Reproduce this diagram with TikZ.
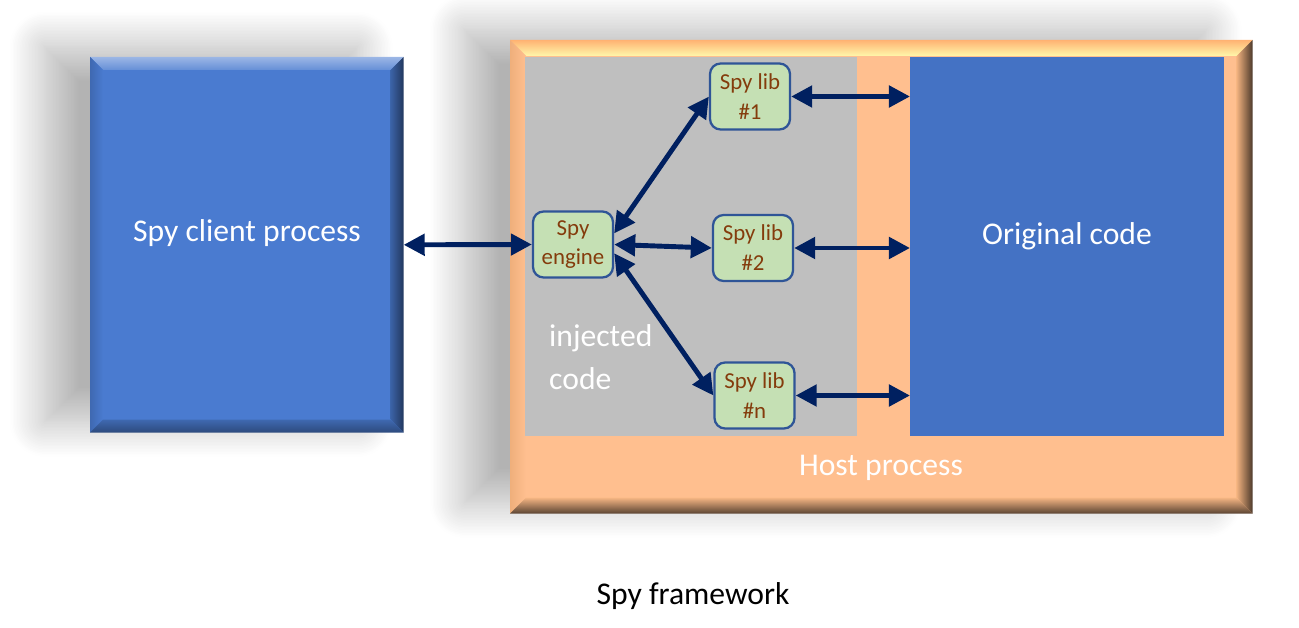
\documentclass[tikz,border=0pt]{standalone}
\usepackage{fontspec}
\setmainfont{Carlito}
\usetikzlibrary{calc,positioning,arrows.meta,shadows.blur}

\definecolor{clientblue}{HTML}{4A7BD0}
\definecolor{codeblue}{HTML}{4472C4}
\definecolor{hostpeach}{HTML}{FFBF8F}
\definecolor{injgrey}{HTML}{BFBFBF}
\definecolor{libgreen}{HTML}{C5E0B4}
\definecolor{libborder}{HTML}{2F5597}
\definecolor{libtext}{HTML}{843C0C}
\definecolor{linkblue}{HTML}{002060}

\begin{document}
\begin{tikzpicture}[x=0.02cm,y=-0.02cm]
    % Styles
    \tikzset{
        bigtext/.style={text=white, font=\fontsize{18}{24}\selectfont},
        softshadow/.style={blur shadow={shadow xshift=-26pt, shadow yshift=6pt, shadow blur radius=20pt,
            shadow blur steps=24, shadow opacity=30}},
        spybox/.style={draw=libborder, line width=1.3pt, fill=libgreen, rounded corners=6pt, text=libtext,
            font=\fontsize{13}{17}\selectfont, align=center, inner sep=0pt, minimum width=1.6cm, minimum height=1.32cm},
        link/.style={draw=linkblue, line width=2.8pt, {Triangle[length=12pt,width=12pt]}-{Triangle[length=12pt,width=12pt]}}
    }

    \useasboundingbox (0,0) rectangle (1299,628);

    % Spy client process
    \node[softshadow, fill=clientblue, anchor=north west, minimum width=6.26cm, minimum height=7.5cm, inner sep=0pt] (client) at (90,57) {};
    \shade[top color=clientblue!55!white, bottom color=clientblue!85!white] (client.north west) -- (client.north east) -- ($(client.north east)+(-13,13)$) -- ($(client.north west)+(13,13)$) -- cycle;
    \shade[left color=clientblue!85!black, right color=clientblue] (client.north west) -- ($(client.north west)+(13,13)$) -- ($(client.south west)+(13,-13)$) -- (client.south west) -- cycle;
    \shade[left color=clientblue!80!black, right color=clientblue!45!black] (client.north east) -- (client.south east) -- ($(client.south east)+(-13,-13)$) -- ($(client.north east)+(-13,13)$) -- cycle;
    \shade[top color=clientblue!85!black, bottom color=clientblue!60!black] (client.south west) -- ($(client.south west)+(13,-13)$) -- ($(client.south east)+(-13,-13)$) -- (client.south east) -- cycle;
    \node[bigtext] (clientlabel) at (247,233) {Spy client process};

    % Host process
    \node[softshadow, fill=hostpeach, anchor=north west, minimum width=14.84cm, minimum height=9.46cm, inner sep=0pt] (host) at (510,40) {};
    \shade[top color=hostpeach!80!orange, bottom color=hostpeach!30!yellow!40!white] (host.north west) -- (host.north east) -- ($(host.north east)+(-16,16)$) -- ($(host.north west)+(16,16)$) -- cycle;
    \shade[left color=hostpeach!75!brown, right color=hostpeach] (host.north west) -- ($(host.north west)+(16,16)$) -- ($(host.south west)+(16,-16)$) -- (host.south west) -- cycle;
    \shade[left color=hostpeach!80!brown, right color=hostpeach!30!black] (host.north east) -- (host.south east) -- ($(host.south east)+(-16,-16)$) -- ($(host.north east)+(-16,16)$) -- cycle;
    \shade[top color=hostpeach!85!brown, bottom color=hostpeach!35!black] (host.south west) -- ($(host.south west)+(16,-16)$) -- ($(host.south east)+(-16,-16)$) -- (host.south east) -- cycle;
    \node[bigtext] (hostlabel) at (881,468) {Host process};

    % Injected code and original code
    \node[fill=injgrey, anchor=north west, minimum width=6.64cm, minimum height=7.58cm, inner sep=0pt] (injected) at (525,57) {};
    \node[bigtext, anchor=west, align=left, font=\fontsize{18}{24.5}\selectfont] (injlabel) at (543,357) {injected\\code};
    \node[fill=codeblue, anchor=north west, minimum width=6.28cm, minimum height=7.58cm, inner sep=0pt] (original) at (910,57) {};
    \node[bigtext] (origlabel) at (1067,236) {Original code};

    % Spy engine and libs
    \node[spybox] (engine) at (573,244.5) {Spy\\engine};
    \node[spybox] (lib1) at (750,96.5) {Spy lib\\\#1};
    \node[spybox] (lib2) at (753,248) {Spy lib\\\#2};
    \node[spybox] (libn) at (754.5,395.5) {Spy lib\\\#n};

    % Links
    \draw[link] (client.east) -- (engine.west);
    \draw[link] (engine.15) -- (lib1.west);
    \draw[link] (engine.east) -- (lib2.west);
    \draw[link] (engine.-12) -- (libn.west);
    \foreach \lib in {lib1,lib2,libn}
        \draw[link] (\lib.east) -- (\lib.east -| original.west);

    % Caption
    \node[font=\fontsize{18}{22}\selectfont] (caption) at (693,596) {Spy framework};

\end{tikzpicture}
\end{document}
